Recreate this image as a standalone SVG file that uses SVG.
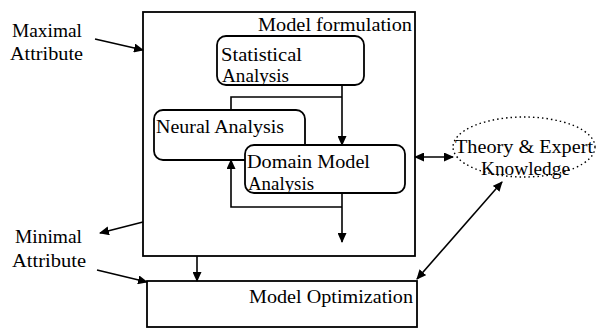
<svg xmlns="http://www.w3.org/2000/svg" width="598" height="329" viewBox="0 0 598 329">
<defs>
<style>
.t{font-family:'Liberation Serif','DejaVu Serif','Noto Serif','Times New Roman',serif;font-size:18px;fill:#000}
.box{fill:#fff;stroke:#000;stroke-width:1.8}
.ln{fill:none;stroke:#000;stroke-width:1.6}
.dot{fill:none;stroke:#000;stroke-width:1.4;stroke-dasharray:1.5 3}
</style>
<marker id="ah" markerWidth="10" markerHeight="9" refX="9" refY="4.5" orient="auto-start-reverse" markerUnits="userSpaceOnUse">
<path d="M0,0 L10,4.5 L0,9 z" fill="#000"/>
</marker>
</defs>
<rect width="598" height="329" fill="#fff"/>

<g id="model-formulation">
<rect class="box" x="143" y="12" width="272" height="244"/>
<text class="t" x="258" y="31" textLength="154" lengthAdjust="spacingAndGlyphs">Model formulation</text>
</g>

<g id="statistical-analysis">
<rect class="box" x="217" y="36" width="147" height="49" rx="9"/>
<text class="t" x="221" y="61" textLength="81" lengthAdjust="spacingAndGlyphs">Statistical</text>
<text class="t" x="222" y="82" textLength="67" lengthAdjust="spacingAndGlyphs">Analysis</text>
</g>

<g id="neural-analysis">
<rect class="box" x="154" y="110" width="151" height="50" rx="9"/>
<text class="t" x="156" y="133" textLength="128" lengthAdjust="spacingAndGlyphs">Neural Analysis</text>
</g>

<g id="domain-model-analysis">
<rect class="box" x="245" y="145" width="160" height="48" rx="9"/>
<text class="t" x="247" y="168" textLength="123" lengthAdjust="spacingAndGlyphs">Domain Model</text>
<text class="t" x="248" y="190" textLength="66" lengthAdjust="spacingAndGlyphs">Analysis</text>
</g>

<g id="model-optimization">
<rect class="box" x="147" y="281" width="270" height="46"/>
<text class="t" x="249" y="303" textLength="164" lengthAdjust="spacingAndGlyphs">Model Optimization</text>
</g>

<g id="theory-expert-knowledge">
<ellipse class="dot" cx="524" cy="147" rx="71" ry="30"/>
<text class="t" x="455" y="153" textLength="138" lengthAdjust="spacingAndGlyphs">Theory &amp; Expert</text>
<text class="t" x="481" y="175" textLength="89" lengthAdjust="spacingAndGlyphs">Knowledge</text>
</g>

<g id="maximal-attribute">
<text class="t" x="12" y="37" textLength="70" lengthAdjust="spacingAndGlyphs">Maximal</text>
<text class="t" x="10" y="60" textLength="73" lengthAdjust="spacingAndGlyphs">Attribute</text>
</g>

<g id="minimal-attribute">
<text class="t" x="15" y="243" textLength="67" lengthAdjust="spacingAndGlyphs">Minimal</text>
<text class="t" x="12" y="267" textLength="74" lengthAdjust="spacingAndGlyphs">Attribute</text>
</g>

<g id="connectors">
<line class="ln" x1="95" y1="39" x2="143" y2="50" marker-end="url(#ah)"/>
<line class="ln" x1="143" y1="222" x2="100" y2="233" marker-end="url(#ah)"/>
<line class="ln" x1="97" y1="270" x2="147" y2="282" marker-end="url(#ah)"/>
<line class="ln" x1="342" y1="85" x2="342" y2="145" marker-end="url(#ah)"/>
<polyline class="ln" points="342,97 231,97 231,110"/>
<line class="ln" x1="342" y1="193" x2="342" y2="242" marker-end="url(#ah)"/>
<polyline class="ln" points="342,207 231,207 231,160" marker-end="url(#ah)"/>
<line class="ln" x1="197" y1="256" x2="197" y2="281" marker-end="url(#ah)"/>
<line class="ln" x1="415" y1="157" x2="453" y2="157" marker-start="url(#ah)" marker-end="url(#ah)"/>
<line class="ln" x1="417" y1="279" x2="502" y2="182" marker-start="url(#ah)" marker-end="url(#ah)"/>
</g>
</svg>
